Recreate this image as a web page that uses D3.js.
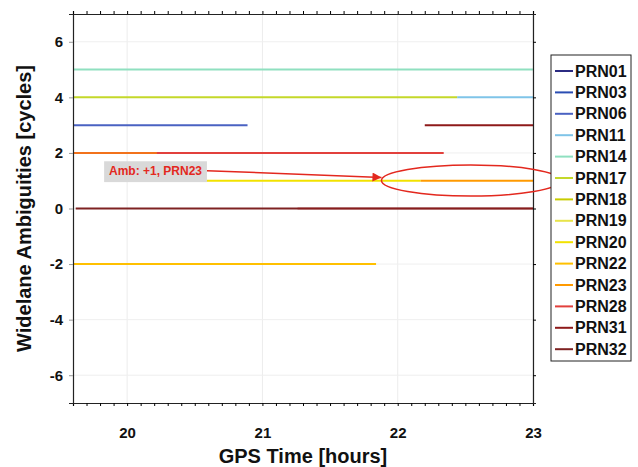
<!DOCTYPE html>
<html>
<head>
<meta charset="utf-8">
<script src="https://cdn.jsdelivr.net/npm/d3@7"></script>
<style>
  body { margin: 0; background: #fff; }
  text { font-family: "Liberation Sans", Arial, sans-serif; font-weight: bold; }
</style>
</head>
<body>
<div id="wrapper"></div>
<script>
// satellites shown in the legend + their colours
const prns = ["PRN01", "PRN03", "PRN06", "PRN11", "PRN14", "PRN17", "PRN18",
  "PRN19", "PRN20", "PRN22", "PRN23", "PRN28", "PRN31", "PRN32"]
const prnColors = ["#2b2b82", "#2a4db3", "#4a62c2", "#7fc4e8", "#8fe0c0", "#c4d82a", "#c8cc00",
  "#e8e44a", "#f2e200", "#ffc000", "#ff9a00", "#e2403c", "#8e1a1a", "#7e2222"]

// widelane ambiguity arcs: prn, start hour, end hour, value (cycles)
const arcPrn   = ["PRN14", "PRN17", "PRN11", "PRN06", "PRN31", "PRN28", "PRN23", "PRN20", "PRN23", "PRN32", "PRN31", "PRN22"]
const arcStart = [19.6,    19.6,    22.44,   19.6,    22.2,    19.6,    19.6,    20.58,   22.17,   19.62,   21.26,   19.6]
const arcEnd   = [23.0,    22.44,   23.0,    20.89,   23.0,    22.34,   20.22,   22.17,   23.0,    23.0,    23.0,    21.84]
const arcValue = [5,       4,       4,       3,       3,       2,       2,       1,       1,       0,       0,       -2]

const xTicks = [20, 21, 22, 23]
const yTicks = [-6, -4, -2, 0, 2, 4, 6]

async function drawChart() {
  const dimensions = {
    width: 638,
    height: 467,
    margin: { top: 14, left: 73, right: 105, bottom: 64 }
  }
  dimensions.boundedWidth = dimensions.width - dimensions.margin.left - dimensions.margin.right
  dimensions.boundedHeight = dimensions.height - dimensions.margin.top - dimensions.margin.bottom

  const svg = d3.select("#wrapper").append("svg")
      .attr("width", dimensions.width)
      .attr("height", dimensions.height)
  const bounds = svg.append("g")
      .attr("transform", `translate(${dimensions.margin.left},${dimensions.margin.top})`)

  const xScale = d3.scaleLinear().domain([19.6, 23]).range([0, dimensions.boundedWidth])
  const yScale = d3.scaleLinear().domain([-7, 7]).range([dimensions.boundedHeight, 0])
  const colorScale = d3.scaleOrdinal().domain(prns).range(prnColors)
  const fmt = d => String(d)   // plain hyphen minus like the original

  // grid
  bounds.append("g").selectAll("line").data(xTicks).join("line")
      .attr("x1", d => xScale(d)).attr("x2", d => xScale(d))
      .attr("y1", 0).attr("y2", dimensions.boundedHeight)
      .attr("stroke", "#ececec")
  bounds.append("g").selectAll("line").data(yTicks).join("line")
      .attr("y1", d => yScale(d)).attr("y2", d => yScale(d))
      .attr("x1", 0).attr("x2", dimensions.boundedWidth)
      .attr("stroke", "#efefef")

  // arcs
  const arcs = arcPrn.map((p, i) => ({ prn: p, s: arcStart[i], e: arcEnd[i], v: arcValue[i] }))
  bounds.append("g").selectAll("line").data(arcs).join("line")
      .attr("x1", d => xScale(d.s)).attr("x2", d => xScale(d.e))
      .attr("y1", d => yScale(d.v)).attr("y2", d => yScale(d.v))
      .attr("stroke", d => colorScale(d.prn))
      .attr("stroke-width", 2)
      .attr("stroke-opacity", (d, i) => (i == 6 || i == 10) ? 0.55 : 1)

  // axes
  const minor = d3.range(19.6, 23.001, 0.1)
  const xAxisBottom = d3.axisBottom(xScale).tickValues(minor).tickSize(3).tickFormat("")
  const xAxisTop = d3.axisTop(xScale).tickValues(minor).tickSize(3).tickFormat("")
  bounds.append("g").attr("transform", `translate(0,${dimensions.boundedHeight})`).call(xAxisBottom)
  bounds.append("g").call(xAxisTop)
  const xLabels = bounds.append("g")
      .attr("transform", `translate(0,${dimensions.boundedHeight})`)
      .call(d3.axisBottom(xScale).tickValues(xTicks).tickSize(0).tickPadding(24).tickFormat(fmt))
  xLabels.select(".domain").remove()
  xLabels.selectAll("text").style("font-size", "15px").attr("fill", "#111")

  const yLeft = bounds.append("g")
      .call(d3.axisLeft(yScale).tickValues(yTicks).tickSize(4).tickPadding(6).tickFormat(fmt))
  yLeft.selectAll("text").style("font-size", "15px").attr("fill", "#111")
  yLeft.selectAll(".tick line").attr("stroke", "#999")
  bounds.append("g").attr("transform", `translate(${dimensions.boundedWidth},0)`)
      .call(d3.axisRight(yScale).tickValues(yTicks).tickSize(3).tickFormat(""))
  svg.selectAll(".domain").attr("stroke", "#222").attr("stroke-width", 1.2)
  svg.selectAll("g.tick line").attr("stroke-width", 1)

  // axis titles
  svg.append("text")
      .attr("x", dimensions.margin.left + dimensions.boundedWidth / 2)
      .attr("y", 463)
      .attr("text-anchor", "middle")
      .style("font-size", "20px")
      .attr("fill", "#111")
      .text("GPS Time [hours]")
  svg.append("text")
      .attr("transform", `translate(31,${dimensions.margin.top + dimensions.boundedHeight / 2}) rotate(-90)`)
      .attr("text-anchor", "middle")
      .style("font-size", "20px")
      .attr("fill", "#111")
      .text("Widelane Ambiguities [cycles]")

  // annotation
  const red = "#e3281e"
  svg.append("defs").append("marker")
      .attr("id", "arrow").attr("viewBox", "0 0 10 10")
      .attr("refX", 10).attr("refY", 5)
      .attr("markerWidth", 8).attr("markerHeight", 6)
      .attr("orient", "auto")
    .append("path").attr("d", "M0,0 L10,5 L0,10 z").attr("fill", red)
  bounds.append("line")
      .attr("x1", xScale(20.59)).attr("y1", yScale(1.36))
      .attr("x2", xScale(21.88)).attr("y2", yScale(1.12))
      .attr("stroke", red).attr("stroke-width", 1.5)
      .attr("marker-end", "url(#arrow)")
  bounds.append("rect")
      .attr("x", xScale(19.83)).attr("y", yScale(1.7))
      .attr("width", xScale(20.59) - xScale(19.83))
      .attr("height", yScale(0.95) - yScale(1.7))
      .attr("fill", "#d9d9d9")
  bounds.append("text")
      .attr("x", (xScale(19.83) + xScale(20.59)) / 2)
      .attr("y", yScale(1.32))
      .attr("text-anchor", "middle")
      .attr("dominant-baseline", "middle")
      .style("font-size", "12px")
      .attr("fill", red)
      .text("Amb: +1, PRN23")
  bounds.append("ellipse")
      .attr("cx", xScale(22.54)).attr("cy", yScale(1.01))
      .attr("rx", xScale(22.54) - xScale(21.88))
      .attr("ry", yScale(0.45) - yScale(1.01))
      .attr("fill", "none").attr("stroke", red).attr("stroke-width", 1.5)

  // legend
  const legend = svg.append("g").attr("transform", "translate(551,55)")
  legend.append("rect")
      .attr("width", 80).attr("height", 306)
      .attr("fill", "#fff").attr("stroke", "#222").attr("stroke-width", 1)
  const items = legend.selectAll("g.item").data(prns).join("g")
      .attr("class", "item")
      .attr("transform", (d, i) => `translate(0,${16 + i * 21.4})`)
  items.append("line")
      .attr("x1", 4).attr("x2", 22)
      .attr("stroke", d => colorScale(d)).attr("stroke-width", 2)
  items.append("text")
      .attr("x", 24).attr("dy", "0.35em")
      .style("font-size", "16px")
      .attr("fill", "#111")
      .text(d => d)
}
drawChart()
</script>
</body>
</html>
